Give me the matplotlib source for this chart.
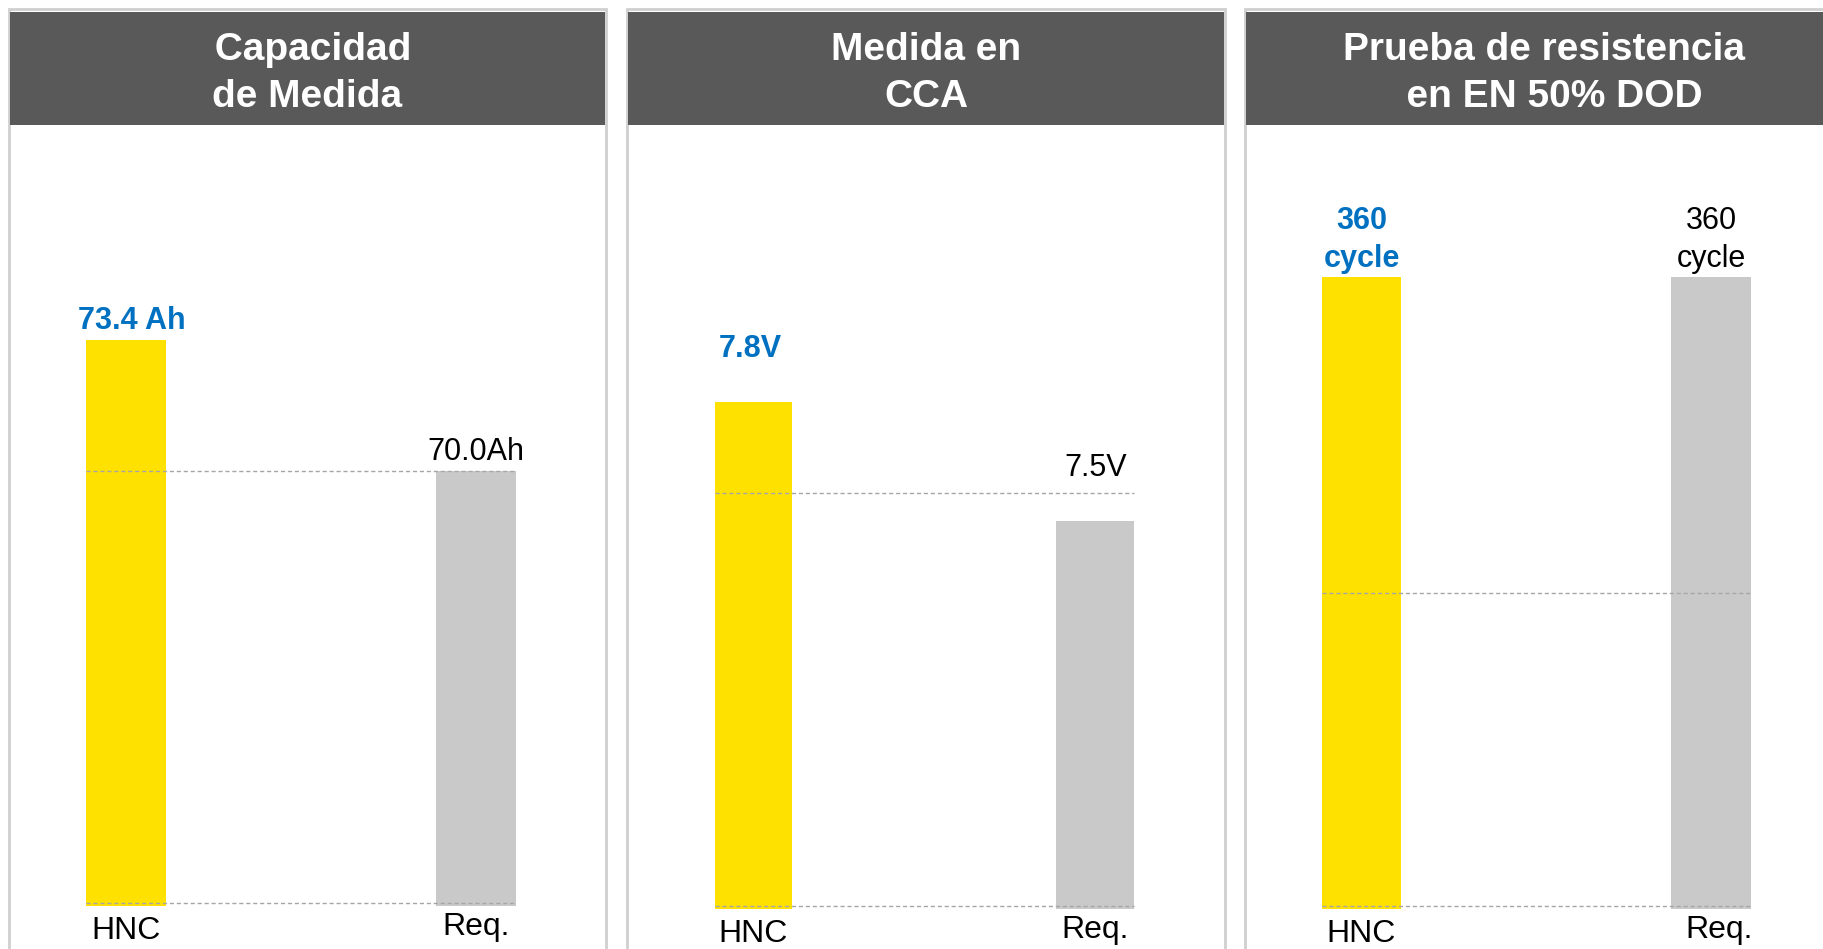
import matplotlib.pyplot as plt
from matplotlib.patches import Rectangle

plt.rcParams['font.family'] = ['Liberation Sans', 'DejaVu Sans']

# Chart values
titles = [' Capacidad\nde Medida', 'Medida en\nCCA', 'Prueba de resistencia\n  en EN 50% DOD']
categories = ['HNC', 'Req.']
hnc_values = [73.4, 7.8, 360]
req_values = [70.0, 7.5, 360]
hnc_labels = ['73.4 Ah', '7.8V', '360\ncycle']
req_labels = ['70.0Ah', '7.5V', '360\ncycle']
guide_values = [70.0, 7.57, 180]
y_limits = [(58.7, 79.0), (6.52, 8.5), (0, 446.6)]

W, H, DPI = 1823, 949, 100
YELLOW = '#FFE100'
GREY = '#C9C9C9'
HEADER = '#595959'
BLUE = '#0070C0'
DASH = '#A6A6A6'

# panel layout in pixels: left, width, axes right, baseline, x limits,
# label offset (pt), x shift of the HNC value label and of the Req. category label (pt)
panels = [
    dict(left=9, width=597, ax_right=606, base=906, xlim=(-0.334, 1.371), off=14, hnc_dx=4, req_dx=0),
    dict(left=627, width=598, ax_right=1225, base=909, xlim=(-0.370, 1.379), off=38, hnc_dx=-2, req_dx=0),
    dict(left=1245, width=598, ax_right=1823, base=909, xlim=(-0.333, 1.320), off=27, hnc_dx=0, req_dx=6),
]
top_px, header_top, header_bot = 9, 12, 125
bar_w = 0.228

fig = plt.figure(figsize=(W / DPI, H / DPI), dpi=DPI)
fig.patch.set_facecolor('white')

def fx(px):
    return px / W

def fy(py):
    return 1 - py / H

for i, p in enumerate(panels):
    # outer frame
    fig.add_artist(Rectangle((fx(p['left']), fy(H + 10)), fx(p['width']), (H + 10 - top_px) / H,
                             transform=fig.transFigure, facecolor='white',
                             edgecolor='#CFCFCF', lw=2, zorder=0))
    # header band
    fig.add_artist(Rectangle((fx(p['left'] + 1), fy(header_bot)), fx(p['width'] - 2),
                             (header_bot - header_top) / H, transform=fig.transFigure,
                             facecolor=HEADER, edgecolor='none', zorder=1))
    fig.text(fx(p['left'] + p['width'] / 2), fy((header_top + header_bot) / 2 + 5), titles[i],
             ha='center', va='center', color='white', fontsize=28, fontweight='bold',
             linespacing=1.42, zorder=2)

    ax = fig.add_axes([fx(p['left']), fy(p['base']), fx(p['ax_right'] - p['left']),
                       (p['base'] - header_bot) / H])
    ax.set_axis_off()
    ax.set_xlim(*p['xlim'])
    ax.set_ylim(*y_limits[i])
    lo = y_limits[i][0]
    vals = [hnc_values[i], req_values[i]]
    ax.bar([0, 1], [v - lo for v in vals], bottom=lo, width=bar_w,
           color=[YELLOW, GREY], edgecolor='none', zorder=1)
    # dashed guide and baseline
    ax.hlines([guide_values[i], lo + 0.004 * (y_limits[i][1] - lo)], -bar_w / 2, 1 + bar_w / 2,
              colors=DASH, linestyles=(0, (3, 2)), lw=1, zorder=3)
    # value labels
    ax.annotate(hnc_labels[i], (0, hnc_values[i]), xytext=(p['hnc_dx'], p['off']),
                textcoords='offset points', ha='center', va='center', color=BLUE,
                fontsize=22, fontweight='bold', linespacing=1.35, annotation_clip=False)
    ax.annotate(req_labels[i], (1, req_values[i]), xytext=(0, p['off']),
                textcoords='offset points', ha='center', va='center', color='black',
                fontsize=22, linespacing=1.35, annotation_clip=False)
    # category labels
    for j, c in enumerate(categories):
        ax.annotate(c, (j, lo), xytext=(p['req_dx'] if j == 1 else 0, -18 if j == 0 else -15),
                    textcoords='offset points', ha='center', va='center',
                    color='black', fontsize=23, annotation_clip=False)

fig.savefig('out.png', dpi=DPI)
